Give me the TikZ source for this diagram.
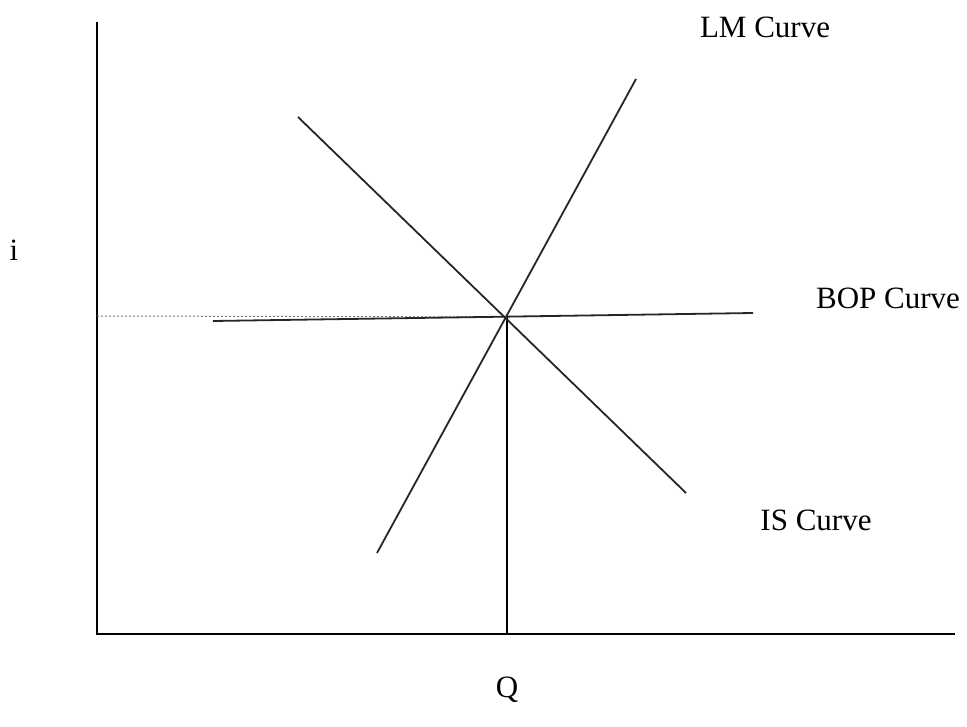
\documentclass[tikz,border=0pt]{standalone}
\usepackage{fontspec}
\setmainfont{Liberation Serif}
\begin{document}
\begin{tikzpicture}[x=1pt,y=-1pt,
  axis/.style={line width=2.2pt,black},
  curve/.style={line width=1.8pt,black!85},
  guide/.style={line width=1pt,black!55,dash pattern=on 2pt off 2pt},
  lbl/.style={font=\fontsize{31}{36}\selectfont,inner sep=0pt}]
\useasboundingbox (0,0) rectangle (967,727);
% coordinates
\coordinate (O) at (97,634);
\coordinate (ytop) at (97,22);
\coordinate (xend) at (955,634);
\coordinate (E) at (507,317);
\coordinate (Ebase) at (507,634);
\coordinate (ydash) at (97,316);
\coordinate (bopL) at (213,321);
\coordinate (bopR) at (753,313);
\coordinate (lmL) at (377,553);
\coordinate (lmR) at (636,79);
\coordinate (isL) at (298,117);
\coordinate (isR) at (686,493);
% axes
\draw[axis] (ytop) -- (O) -- (xend);
% guides
\draw[guide] (ydash) -- (E);
\draw[axis,line width=2pt] (E) -- (Ebase);
% curves
\draw[curve] (bopL) -- (bopR);
\draw[curve] (lmL) -- (lmR);
\draw[curve] (isL) -- (isR);
% labels
\node[lbl] (lmlab) at (765,27) {LM Curve};
\node[lbl] (boplab) at (888,298) {BOP Curve};
\node[lbl] (islab) at (816,520) {IS Curve};
\node[lbl] (ilab) at (14,250) {i};
\node[lbl] (qlab) at (507,690) {Q};
\end{tikzpicture}
\end{document}
